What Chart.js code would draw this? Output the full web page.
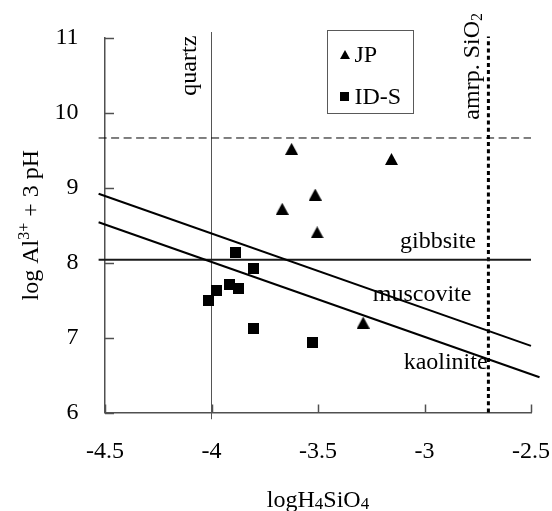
<!DOCTYPE html>
<html>
<head>
<meta charset="utf-8">
<script src="https://cdn.jsdelivr.net/npm/chart.js@4/dist/chart.umd.min.js"></script>
<style>
  html, body { margin: 0; padding: 0; background: #fff; }
  canvas { display: block; }
</style>
</head>
<body>
<canvas id="c" width="552" height="511"></canvas>
<script>
// Axis ticks
const xTicks = [-4.5, -4, -3.5, -3, -2.5];
const yTicks = [6, 7, 8, 9, 10, 11];

// Solution compositions: log H4SiO4 (x) and log Al3+ + 3 pH (y)
const jpX  = [-3.624, -3.155, -3.513, -3.668, -3.504, -3.288];
const jpY  = [9.52, 9.385, 8.91, 8.72, 8.405, 7.20];
const idsX = [-3.886, -3.803, -3.916, -3.875, -3.978, -4.016, -3.803, -3.527];
const idsY = [8.13, 7.92, 7.71, 7.65, 7.63, 7.49, 7.12, 6.93];

// Mineral stability boundaries
const muscoviteX = [-4.53, -2.5];
const muscoviteY = [8.92, 6.89];
const kaoliniteX = [-4.53, -2.46];
const kaoliniteY = [8.54, 6.47];
const gibbsiteX  = [-4.53, -2.5];
const gibbsiteY  = [8.04, 8.04];
const amorphAlX  = [-4.53, -2.5];
const amorphAlY  = [9.665, 9.665];
const quartzX    = [-4, -4];
const quartzY    = [5.91, 11.08];
const amrpSiX    = [-2.7, -2.7];
const amrpSiY    = [6.0, 11.02];

const pts = (xs, ys) => xs.map((x, i) => ({ x: x, y: ys[i] }));
const SERIF = '"Liberation Serif", "Times New Roman", serif';

// Marker bitmaps (bounding-box centred)
function marker(kind, w, h) {
  const cv = document.createElement('canvas');
  cv.width = w; cv.height = h;
  const g = cv.getContext('2d');
  g.fillStyle = '#000';
  g.beginPath();
  if (kind === 'tri') {
    g.moveTo(w / 2, 0);
    g.lineTo(w, h);
    g.lineTo(0, h);
    g.closePath();
  } else {
    g.rect(0, 0, w, h);
  }
  g.fill();
  return cv;
}
const triBig = marker('tri', 13, 12);
const sqBig  = marker('sq', 11, 11);
const triSmall = marker('tri', 10, 9);
const sqSmall  = marker('sq', 9, 9);

function lineSet(label, xs, ys, width, dash, color) {
  return {
    label: label,
    data: pts(xs, ys),
    showLine: true,
    pointRadius: 0,
    borderColor: color || '#000',
    borderWidth: width,
    borderDash: dash || [],
    borderCapStyle: 'butt',
    fill: false,
    clip: false
  };
}

function rotText(ctx, pieces, x, y, align) {
  // pieces drawn along a baseline rotated -90deg
  ctx.save();
  ctx.translate(x, y);
  ctx.rotate(-Math.PI / 2);
  let total = 0;
  pieces.forEach(p => { ctx.font = p.size + 'px ' + SERIF; total += ctx.measureText(p.t).width; });
  let u = align === 'center' ? -total / 2 : 0;
  ctx.textBaseline = 'alphabetic';
  ctx.textAlign = 'left';
  pieces.forEach(p => {
    ctx.font = p.size + 'px ' + SERIF;
    ctx.fillText(p.t, u, p.dy || 0);
    u += ctx.measureText(p.t).width;
  });
  ctx.restore();
}

function flatText(ctx, pieces, cx, y) {
  let total = 0;
  pieces.forEach(p => { ctx.font = p.size + 'px ' + SERIF; total += ctx.measureText(p.t).width; });
  let u = cx - total / 2;
  ctx.textBaseline = 'alphabetic';
  ctx.textAlign = 'left';
  pieces.forEach(p => {
    ctx.font = p.size + 'px ' + SERIF;
    ctx.fillText(p.t, u, y + (p.dy || 0));
    u += ctx.measureText(p.t).width;
  });
}

const decorations = {
  id: 'decorations',
  beforeDatasetsDraw(chart) {
    const { ctx, scales: { x, y }, chartArea } = chart;
    ctx.save();
    ctx.strokeStyle = '#505050';
    ctx.lineWidth = 1.5;
    // inward tick marks
    yTicks.forEach(v => {
      const py = Math.round(y.getPixelForValue(v)) + 0.5;
      ctx.beginPath();
      ctx.moveTo(chartArea.left, py);
      ctx.lineTo(chartArea.left + 9, py);
      ctx.stroke();
    });
    xTicks.forEach(v => {
      const px = Math.round(x.getPixelForValue(v)) + 0.5;
      ctx.beginPath();
      ctx.moveTo(px, chartArea.bottom);
      ctx.lineTo(px, chartArea.bottom - 8);
      ctx.stroke();
    });
    ctx.restore();
  },
  afterDatasetsDraw(chart) {
    const { ctx, scales: { x, y }, chartArea } = chart;
    ctx.save();
    ctx.fillStyle = '#000';
    ctx.font = '24px ' + SERIF;
    ctx.textAlign = 'left';
    ctx.textBaseline = 'alphabetic';
    ctx.fillText('gibbsite', x.getPixelForValue(-3.115), y.getPixelForValue(8.2));
    ctx.fillText('muscovite', x.getPixelForValue(-3.243), y.getPixelForValue(7.483));
    ctx.fillText('kaolinite', x.getPixelForValue(-3.098), y.getPixelForValue(6.58));

    rotText(ctx, [{ t: 'quartz', size: 24 }], x.getPixelForValue(-4.073), y.getPixelForValue(10.23), 'left');
    rotText(ctx, [{ t: 'amrp. SiO', size: 24 }, { t: '2', size: 16, dy: 3 }],
      x.getPixelForValue(-2.744), y.getPixelForValue(9.91), 'left');

    // legend
    const lx0 = x.getPixelForValue(-3.46), lx1 = x.getPixelForValue(-3.056);
    const ly0 = y.getPixelForValue(11.102), ly1 = y.getPixelForValue(9.99);
    ctx.strokeStyle = '#595959';
    ctx.lineWidth = 1;
    ctx.strokeRect(Math.round(lx0) + 0.5, Math.round(ly0) + 0.5, Math.round(lx1 - lx0), Math.round(ly1 - ly0));
    const items = [
      { label: chart.data.datasets[0].label, img: triSmall, cy: ly0 + 24 },
      { label: chart.data.datasets[1].label, img: sqSmall, cy: ly0 + 66 }
    ];
    items.forEach(it => {
      ctx.drawImage(it.img, Math.round(lx0 + 18 - it.img.width / 2), Math.round(it.cy - it.img.height / 2));
      ctx.font = '24px ' + SERIF;
      ctx.fillText(it.label, lx0 + 28, it.cy + 8);
    });

    // axis titles
    rotText(ctx, [
      { t: 'log Al', size: 24 }, { t: '3+', size: 16, dy: -9 }, { t: ' + 3 pH', size: 24 }
    ], 38, (chartArea.top + chartArea.bottom) / 2, 'center');
    flatText(ctx, [
      { t: 'logH', size: 24 }, { t: '4', size: 17, dy: 2 }, { t: 'SiO', size: 24 }, { t: '4', size: 17, dy: 2 }
    ], (chartArea.left + chartArea.right) / 2, 507);
    ctx.restore();
  }
};

const bg = {
  id: 'bg',
  beforeDraw(chart) {
    const c = chart.ctx;
    c.save();
    c.fillStyle = '#fff';
    c.fillRect(0, 0, chart.width, chart.height);
    c.restore();
  }
};

new Chart(document.getElementById('c'), {
  type: 'scatter',
  data: {
    datasets: [
      { label: 'JP', data: pts(jpX, jpY), pointStyle: triBig, pointRadius: 7, clip: false },
      { label: 'ID-S', data: pts(idsX, idsY), pointStyle: sqBig, pointRadius: 6, clip: false },
      lineSet('muscovite', muscoviteX, muscoviteY, 2),
      lineSet('kaolinite', kaoliniteX, kaoliniteY, 2),
      lineSet('gibbsite', gibbsiteX, gibbsiteY, 2, null, '#1a1a1a'),
      lineSet('amorphous Al(OH)3', amorphAlX, amorphAlY, 1, [8, 4.5]),
      lineSet('quartz', quartzX, quartzY, 1, null, '#555'),
      lineSet('amrp. SiO2', amrpSiX, amrpSiY, 3, [4, 3.2])
    ]
  },
  options: {
    responsive: false,
    devicePixelRatio: 1,
    animation: false,
    events: [],
    layout: { padding: { left: 0, top: 38, right: 21, bottom: 0 } },
    plugins: { legend: { display: false }, tooltip: { enabled: false } },
    scales: {
      x: {
        type: 'linear', position: 'bottom', min: -4.5, max: -2.5,
        afterBuildTicks: s => { s.ticks = xTicks.map(v => ({ value: v })); },
        afterFit: s => { s.height = 98.5; s.paddingLeft = 0; s.paddingRight = 0; },
        grid: { display: false, drawTicks: false },
        border: { display: true, color: '#505050', width: 1.5 },
        ticks: { color: '#000', padding: 25, font: { family: SERIF, size: 24 }, callback: v => String(v), maxRotation: 0 }
      },
      y: {
        type: 'linear', position: 'left', min: 6, max: 11,
        afterBuildTicks: s => { s.ticks = yTicks.map(v => ({ value: v })); },
        afterFit: s => { s.width = 105; s.paddingTop = 0; s.paddingBottom = 0; },
        grid: { display: false, drawTicks: false },
        border: { display: true, color: '#505050', width: 1.5 },
        ticks: { color: '#000', padding: 26.5, font: { family: SERIF, size: 24 }, callback: v => String(v) }
      }
    }
  },
  plugins: [bg, decorations]
});
</script>
</body>
</html>
